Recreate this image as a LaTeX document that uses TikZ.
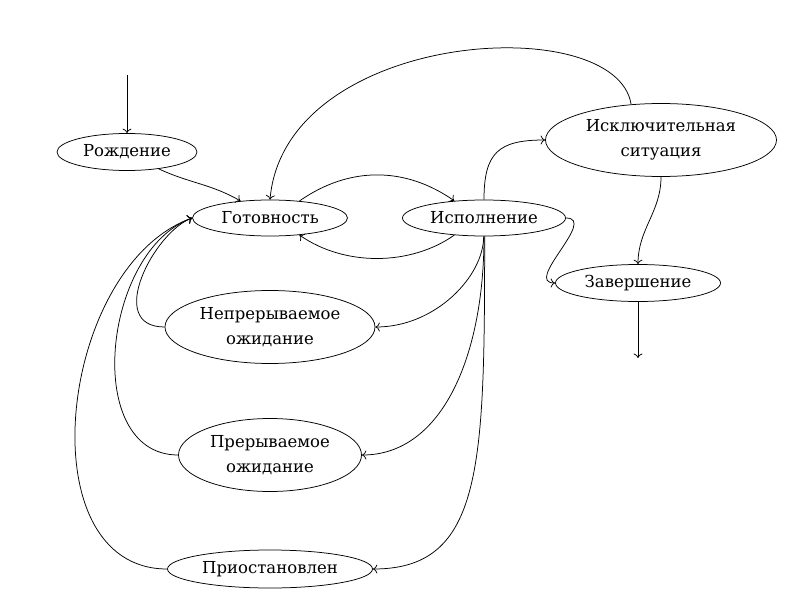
\documentclass[tikz,border=0pt]{standalone}
\usepackage{fontspec}
\setmainfont{DejaVu Serif}
\usetikzlibrary{shapes.geometric,arrows.meta}
\begin{document}
\begin{tikzpicture}[x=1pt,y=1pt,
  state/.style={draw, ellipse, inner sep=0pt, align=center,
    font=\fontsize{16.5}{25}\selectfont, line width=0.75pt},
  edge/.style={->, line width=0.75pt},
  >={To[length=4.5pt,width=9pt]}]
\useasboundingbox (0,0) rectangle (797,-596);
\node[state, minimum width=140pt, minimum height=37pt] (rozh) at (127,-152) {Рождение};
\node[state, minimum width=155pt, minimum height=36pt] (gotov) at (270,-218) {Готовность};
\node[state, minimum width=163pt, minimum height=36pt] (ispol) at (484,-218) {Исполнение};
\node[state, minimum width=231pt, minimum height=73pt] (iskl) at (661,-140) {Исключительная\\ситуация};
\node[state, minimum width=165pt, minimum height=37pt] (zav) at (638,-283) {Завершение};
\node[state, minimum width=210pt, minimum height=73pt] (nepr) at (270,-327) {Непрерываемое\\ожидание};
\node[state, minimum width=183pt, minimum height=73pt] (prer) at (270,-455) {Прерываемое\\ожидание};
\node[state, minimum width=205pt, minimum height=38pt] (prios) at (270,-569) {Приостановлен};
\coordinate (s) at (127,-75);
\coordinate (e) at (638,-358);
\draw[edge] (s) -- (rozh);
\draw[edge] (rozh.-28) to[out=-25,in=150] (gotov.150);
\draw[edge] (gotov.30) to[out=35,in=145] (ispol.150);
\draw[edge] (ispol.-150) to[out=-145,in=-35,looseness=0.9] (gotov.-30);
\draw[edge] (iskl.130) .. controls +(-15,95) and +(15,170) .. (gotov.north);
\draw[edge] (ispol.north) to[out=90,in=180,looseness=1.4] (iskl.west);
\draw[edge] (ispol.east) to[out=0,in=180,looseness=1.25] (zav.west);
\draw[edge] (iskl.south) to[out=-90,in=90] (zav.north);
\draw[edge] (zav) -- (e);
\draw[edge] (ispol.-91) .. controls +(0,-40) and +(60,0) .. (nepr.east);
\draw[edge] (ispol.-90) .. controls +(0,-120) and +(80,0) .. (prer.east);
\draw[edge] (ispol.-88) .. controls +(0,-230) and +(110,0) .. (prios.east);
\draw[edge] (nepr.west) .. controls +(-60,0) and +(-38,-14) .. (gotov.west);
\draw[edge] (prer.west) .. controls +(-96,0) and +(-90,-33) .. (gotov.west);
\draw[edge] (prios.west) .. controls +(-142,0) and +(-134,-48) .. (gotov.west);
\end{tikzpicture}
\end{document}
